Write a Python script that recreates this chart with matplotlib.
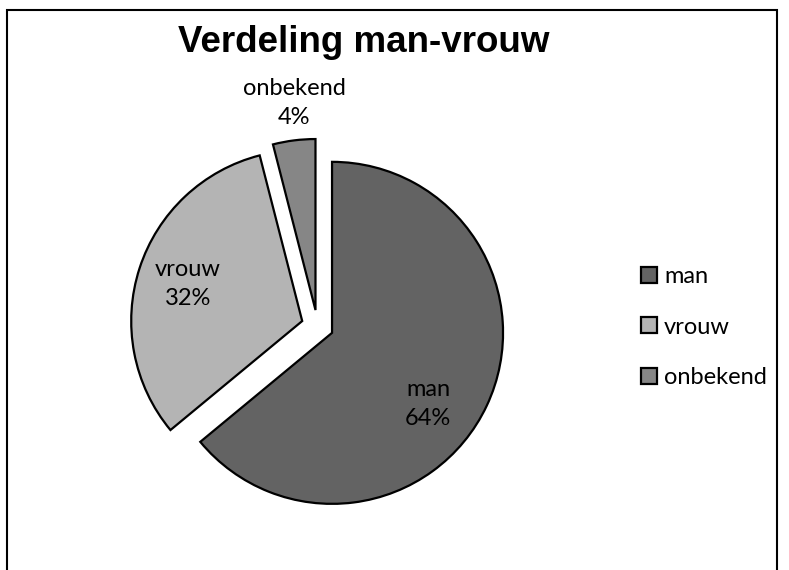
import matplotlib
matplotlib.use("Agg")
import matplotlib.pyplot as plt
from matplotlib.patches import Rectangle, Patch

categories = ["man", "vrouw", "onbekend"]
percentages = [64, 32, 4]
colors = ["#636363", "#b4b4b4", "#868686"]
title = "Verdeling man-vrouw"

W, H = 789, 570
fig = plt.figure(figsize=(W / 100, H / 100), dpi=100)

# pie centre & radius in pixels
cx, cy, r = 317.5, 326.0, 171.0
ax = fig.add_axes([0, 0, 1, 1])

wedges, _ = ax.pie(percentages, colors=colors, startangle=90, counterclock=False,
                   explode=[0.094] * 3, radius=1.0,
                   wedgeprops=dict(edgecolor="black", linewidth=1.6, joinstyle="miter"))
ax.set_xlim(-cx / r, (W - cx) / r)
ax.set_ylim(-(H - cy) / r, cy / r)
ax.set_aspect("equal")
ax.axis("off")

label_font = "Lato"
fs = 17
label_pos = [(0.646, -0.456), (-0.757, 0.246), (-0.137, 1.304)]
for cat, p, (lx, ly) in zip(categories, percentages, label_pos):
    ax.text(lx, ly, f"{cat}\n{p}%", ha="center", va="center", fontsize=fs,
            family=label_font, linespacing=1.5, color="black")

fig.text(364 / W, 1 - 42 / H, title, ha="center", va="center", fontsize=26.5,
         fontweight="bold", family="Liberation Sans")

handles = [Patch(facecolor=c, edgecolor="black", linewidth=1.6) for c in colors]
leg = fig.legend(handles, categories, loc="center left",
                 bbox_to_anchor=(641 / W, 1 - 327 / H), frameon=False,
                 prop=dict(family=label_font, size=fs), handlelength=0.68,
                 handleheight=0.68, handletextpad=0.3, labelspacing=1.25,
                 borderpad=0, borderaxespad=0)

fig.add_artist(Rectangle((7 / W, -0.05), (777 - 7) / W, 1.05 - 10 / H,
                         transform=fig.transFigure, fill=False,
                         edgecolor="black", linewidth=1.5))

fig.savefig("out.png", dpi=100)
